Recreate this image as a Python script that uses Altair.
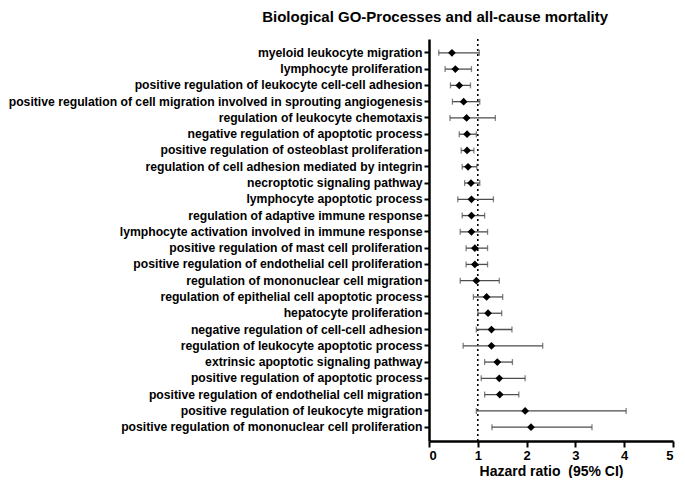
import altair as alt
import pandas as pd

processes = [
    "myeloid leukocyte migration",
    "lymphocyte proliferation",
    "positive regulation of leukocyte cell-cell adhesion",
    "positive regulation of cell migration involved in sprouting angiogenesis",
    "regulation of leukocyte chemotaxis",
    "negative regulation of apoptotic process",
    "positive regulation of osteoblast proliferation",
    "regulation of cell adhesion mediated by integrin",
    "necroptotic signaling pathway",
    "lymphocyte apoptotic process",
    "regulation of adaptive immune response",
    "lymphocyte activation involved in immune response",
    "positive regulation of mast cell proliferation",
    "positive regulation of endothelial cell proliferation",
    "regulation of mononuclear cell migration",
    "regulation of epithelial cell apoptotic process",
    "hepatocyte proliferation",
    "negative regulation of cell-cell adhesion",
    "regulation of leukocyte apoptotic process",
    "extrinsic apoptotic signaling pathway",
    "positive regulation of apoptotic process",
    "positive regulation of endothelial cell migration",
    "positive regulation of leukocyte migration",
    "positive regulation of mononuclear cell proliferation",
]
hr = [0.47, 0.54, 0.62, 0.71, 0.77, 0.78, 0.78, 0.80, 0.86, 0.87, 0.87, 0.87,
      0.94, 0.94, 0.97, 1.18, 1.21, 1.28, 1.28, 1.40, 1.44, 1.45, 1.97, 2.09]
ci_low = [0.20, 0.33, 0.44, 0.48, 0.43, 0.62, 0.66, 0.68, 0.73, 0.59, 0.68, 0.64,
          0.76, 0.76, 0.64, 0.91, 1.00, 0.97, 0.70, 1.14, 1.07, 1.14, 0.97, 1.29]
ci_high = [1.03, 0.87, 0.85, 1.04, 1.36, 0.97, 0.92, 0.98, 1.04, 1.32, 1.14, 1.20,
           1.20, 1.20, 1.44, 1.51, 1.49, 1.70, 2.33, 1.71, 1.97, 1.84, 4.04, 3.34]
x_ticks = [0, 1, 2, 3, 4, 5]
ref_value = [1]

df = pd.DataFrame({"process": processes, "hr": hr, "lo": ci_low, "hi": ci_high})
ref = pd.DataFrame({"ref": ref_value})

FONT = "Liberation Sans"

y_enc = alt.Y(
    "process:N",
    sort=processes,
    scale=alt.Scale(padding=0.7),
    axis=alt.Axis(
        title=None,
        labelFont=FONT,
        labelFontSize=12.2,
        labelFontWeight="bold",
        labelColor="black",
        labelPadding=2,
        domainColor="black",
        domainWidth=2.5,
        tickColor="black",
        tickWidth=2,
        tickSize=5,
        labelLimit=500,
    ),
)
x_scale = alt.Scale(domain=[0, 5], nice=False, zero=True)
x_axis = alt.Axis(
    title="Hazard ratio\u00a0\u00a0(95% CI)",
    titleFont=FONT,
    titleFontSize=14,
    titleFontWeight="bold",
    titleColor="black",
    titlePadding=2,
    values=x_ticks,
    format="d",
    labelFont=FONT,
    labelFontSize=13,
    labelFontWeight="bold",
    labelColor="black",
    labelPadding=2,
    domainColor="black",
    domainWidth=2.5,
    tickColor="black",
    tickWidth=2,
    tickSize=6,
    grid=False,
)

base = alt.Chart(df)

ci = base.mark_rule(color="#4d4d4d", strokeWidth=1.3).encode(
    y=y_enc,
    x=alt.X("lo:Q", scale=x_scale, axis=x_axis),
    x2="hi:Q",
)
cap_lo = base.mark_tick(color="#4d4d4d", thickness=1.3, size=6).encode(
    y=alt.Y("process:N", sort=processes), x="lo:Q"
)
cap_hi = base.mark_tick(color="#4d4d4d", thickness=1.3, size=6).encode(
    y=alt.Y("process:N", sort=processes), x="hi:Q"
)
points = base.mark_point(shape="diamond", filled=True, color="black", size=60, opacity=1).encode(
    y=alt.Y("process:N", sort=processes), x="hr:Q"
)
refline = alt.Chart(ref).mark_rule(color="black", strokeDash=[2, 3], strokeWidth=1.6).encode(
    x="ref:Q"
)

chart = alt.layer(refline, ci, cap_lo, cap_hi, points).properties(
    width=244,
    height=402,
    padding={"left": 0, "top": 2, "right": 3, "bottom": 0},
    title=alt.TitleParams(
        "Biological GO-Processes and all-cause mortality",
        font=FONT,
        fontSize=15,
        fontWeight="bold",
        color="black",
        anchor="middle",
        frame="bounds",
        dx=94,
        offset=13,
    ),
).configure_view(stroke=None)

chart.save("out.html", embed_options={"renderer": "svg", "actions": False})
